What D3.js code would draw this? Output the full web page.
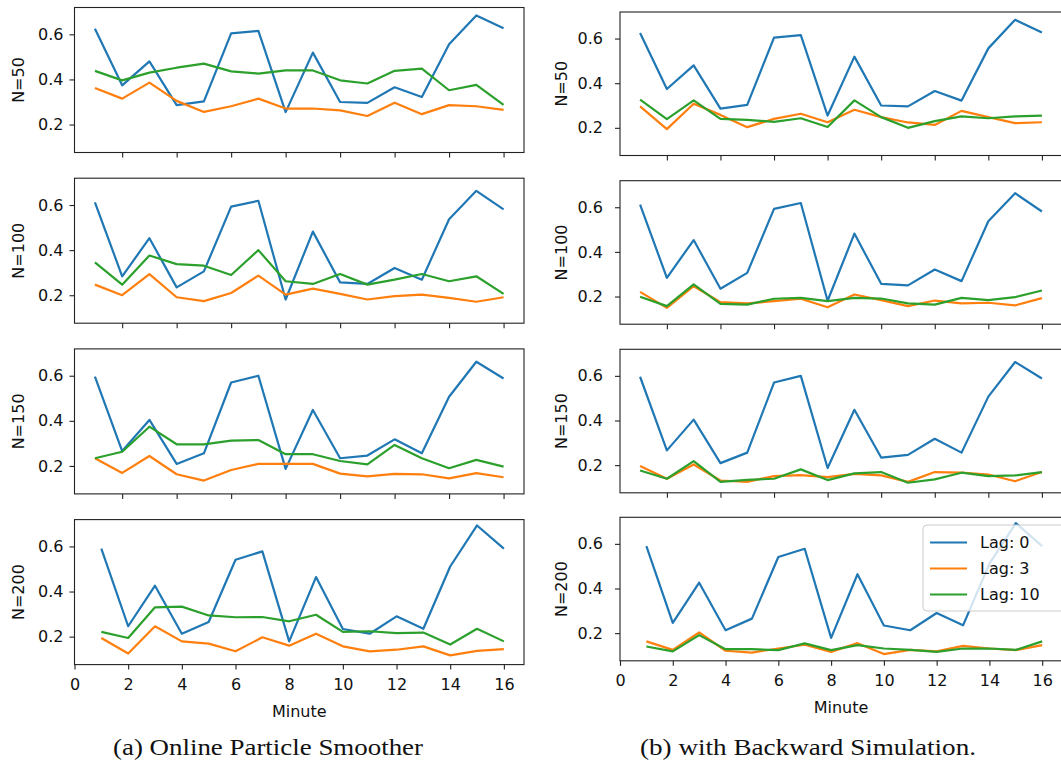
<!DOCTYPE html>
<html>
<head>
<meta charset="utf-8">
<script src="https://cdn.jsdelivr.net/npm/d3@7"></script>
<style>
  body { margin: 0; background: white; }
  svg { display: block; font-family: "DejaVu Sans", sans-serif; }
  .caption { font-family: "Liberation Serif", "DejaVu Serif", serif; }
</style>
</head>
<body>
<svg id="chart" width="1061" height="762"></svg>
<script>
  // data
  const minutes = [1, 2, 3, 4, 5, 6, 7, 8, 9, 10, 11, 12, 13, 14, 15, 16];
  const particleLabels = ["N=50", "N=100", "N=150", "N=200"];
  const lagLabels = ["Lag: 0", "Lag: 3", "Lag: 10"];
  const xTicks = [0, 2, 4, 6, 8, 10, 12, 14, 16];
  const yTicks = [0.2, 0.4, 0.6];
  const captions = ["(a) Online Particle Smoother", "(b) with Backward Simulation."];

  // lag 0 is the same filter in both columns
  const lag0N50  = [0.625, 0.374, 0.480, 0.286, 0.303, 0.604, 0.615, 0.255, 0.519, 0.300, 0.296, 0.365, 0.322, 0.556, 0.684, 0.627];
  const lag0N100 = [0.612, 0.284, 0.453, 0.235, 0.306, 0.593, 0.619, 0.181, 0.482, 0.257, 0.250, 0.321, 0.269, 0.537, 0.663, 0.581];
  const lag0N150 = [0.596, 0.266, 0.404, 0.209, 0.256, 0.570, 0.600, 0.187, 0.448, 0.234, 0.246, 0.318, 0.256, 0.507, 0.662, 0.588];
  const lag0N200 = [0.590, 0.246, 0.426, 0.213, 0.265, 0.541, 0.578, 0.179, 0.464, 0.234, 0.213, 0.290, 0.235, 0.511, 0.693, 0.590];

  // (a) online particle smoother
  const lag3OnlineN50   = [0.362, 0.315, 0.386, 0.305, 0.256, 0.281, 0.315, 0.271, 0.271, 0.263, 0.238, 0.297, 0.246, 0.286, 0.281, 0.265];
  const lag10OnlineN50  = [0.438, 0.396, 0.430, 0.452, 0.470, 0.436, 0.426, 0.440, 0.440, 0.396, 0.382, 0.438, 0.448, 0.352, 0.376, 0.287];
  const lag3OnlineN100  = [0.247, 0.200, 0.294, 0.191, 0.174, 0.210, 0.287, 0.203, 0.229, 0.206, 0.181, 0.196, 0.203, 0.188, 0.171, 0.191];
  const lag10OnlineN100 = [0.346, 0.247, 0.376, 0.338, 0.331, 0.290, 0.400, 0.262, 0.250, 0.294, 0.247, 0.269, 0.294, 0.262, 0.284, 0.206];
  const lag3OnlineN150  = [0.234, 0.169, 0.244, 0.163, 0.135, 0.182, 0.209, 0.209, 0.209, 0.166, 0.154, 0.165, 0.163, 0.145, 0.168, 0.150];
  const lag10OnlineN150 = [0.234, 0.263, 0.374, 0.296, 0.296, 0.312, 0.315, 0.252, 0.252, 0.222, 0.207, 0.293, 0.234, 0.190, 0.227, 0.197];
  const lag3OnlineN200  = [0.194, 0.125, 0.246, 0.179, 0.169, 0.135, 0.197, 0.160, 0.213, 0.157, 0.135, 0.142, 0.157, 0.117, 0.137, 0.145];
  const lag10OnlineN200 = [0.221, 0.194, 0.330, 0.333, 0.294, 0.286, 0.287, 0.268, 0.297, 0.221, 0.224, 0.216, 0.218, 0.165, 0.235, 0.179];

  // (b) with backward simulation
  const lag3BackN50   = [0.296, 0.194, 0.308, 0.258, 0.203, 0.240, 0.263, 0.225, 0.281, 0.248, 0.224, 0.213, 0.276, 0.248, 0.221, 0.225];
  const lag10BackN50  = [0.326, 0.239, 0.323, 0.240, 0.236, 0.227, 0.243, 0.204, 0.323, 0.248, 0.200, 0.230, 0.251, 0.243, 0.251, 0.255];
  const lag3BackN100  = [0.221, 0.149, 0.246, 0.175, 0.169, 0.179, 0.190, 0.152, 0.209, 0.184, 0.157, 0.182, 0.169, 0.172, 0.160, 0.193];
  const lag10BackN100 = [0.199, 0.157, 0.254, 0.167, 0.164, 0.190, 0.194, 0.179, 0.194, 0.191, 0.169, 0.164, 0.194, 0.184, 0.197, 0.227];
  const lag3BackN150  = [0.196, 0.139, 0.203, 0.131, 0.125, 0.151, 0.155, 0.146, 0.161, 0.154, 0.125, 0.169, 0.166, 0.158, 0.128, 0.169];
  const lag10BackN150 = [0.176, 0.139, 0.218, 0.125, 0.134, 0.139, 0.181, 0.133, 0.163, 0.169, 0.121, 0.136, 0.166, 0.151, 0.154, 0.169];
  const lag3BackN200  = [0.163, 0.125, 0.203, 0.121, 0.113, 0.131, 0.148, 0.116, 0.155, 0.106, 0.125, 0.118, 0.143, 0.131, 0.124, 0.146];
  const lag10BackN200 = [0.140, 0.118, 0.191, 0.128, 0.128, 0.124, 0.154, 0.124, 0.146, 0.131, 0.125, 0.116, 0.131, 0.131, 0.125, 0.163];

  const colors = ["#1f77b4", "#ff7f0e", "#2ca02c"];

  const columns = [
    {
      left: 74.5, right: 524, tops: [7.5, 178.2, 348.9, 519.6], h: 145, yPad: 6, ylabelX: 18,
      series: [
        [lag0N50, lag3OnlineN50, lag10OnlineN50],
        [lag0N100, lag3OnlineN100, lag10OnlineN100],
        [lag0N150, lag3OnlineN150, lag10OnlineN150],
        [lag0N200, lag3OnlineN200, lag10OnlineN200]
      ],
      captionX: 268
    },
    {
      left: 620, right: 1062, tops: [12, 180.7, 349.3, 517.3], h: 143.5, yPad: 12, ylabelX: 561,
      series: [
        [lag0N50, lag3BackN50, lag10BackN50],
        [lag0N100, lag3BackN100, lag10BackN100],
        [lag0N150, lag3BackN150, lag10BackN150],
        [lag0N200, lag3BackN200, lag10BackN200]
      ],
      captionX: 808
    }
  ];

  const svg = d3.select("#chart");

  columns.forEach((col, ci) => {
    col.tops.forEach((top, ri) => {
      const last = ri === col.tops.length - 1;
      const g = svg.append("g").attr("transform", `translate(${col.left},${top})`);
      const w = col.right - col.left;

      // bottom row starts at 0, the others use the default margins
      const x = d3.scaleLinear().domain([last ? 0 : 0.25, 16.75]).range([0, w]);
      const y = d3.scaleLinear().domain([0.076, 0.719]).range([col.h, 0]);

      const line = d3.line().x((d, i) => x(minutes[i])).y(d => y(d));

      col.series[ri].forEach((vals, si) => {
        g.append("path")
          .datum(vals)
          .attr("d", line)
          .attr("fill", "none")
          .attr("stroke", colors[si])
          .attr("stroke-width", 2.2)
          .attr("stroke-linejoin", "round");
      });

      const xAxis = g.append("g")
        .attr("transform", `translate(0,${col.h})`)
        .call(d3.axisBottom(x)
          .tickValues(xTicks.filter(t => t >= x.domain()[0]))
          .tickSize(5).tickPadding(9)
          .tickFormat(last ? d3.format("d") : ""));
      xAxis.select(".domain").remove();

      const yAxis = g.append("g")
        .call(d3.axisLeft(y).tickValues(yTicks).tickSize(5).tickPadding(col.yPad)
          .tickFormat(d3.format(".1f")));
      yAxis.select(".domain").remove();

      [xAxis, yAxis].forEach(a => {
        a.selectAll("line").attr("stroke", "#222").attr("stroke-width", 1.1);
        a.selectAll("text").attr("fill", "#111").style("font-size", "16px")
          .style("font-family", "DejaVu Sans");
      });

      g.append("rect")
        .attr("width", w).attr("height", col.h)
        .attr("fill", "none").attr("stroke", "#222").attr("stroke-width", 1.1);

      svg.append("text")
        .attr("transform", `translate(${col.ylabelX},${top + col.h / 2}) rotate(-90)`)
        .attr("text-anchor", "middle")
        .attr("dominant-baseline", "central")
        .style("font-size", "16px")
        .attr("fill", "#111")
        .text(particleLabels[ri]);

      if (last) {
        svg.append("text")
          .attr("x", (col.left + col.right) / 2)
          .attr("y", top + col.h + 52)
          .attr("text-anchor", "middle")
          .style("font-size", "16px")
          .attr("fill", "#111")
          .text("Minute");
      }
    });

    svg.append("text")
      .attr("class", "caption")
      .attr("x", col.captionX)
      .attr("y", 755)
      .attr("text-anchor", "middle")
      .style("font-size", "23px")
      .attr("fill", "#111")
      .attr("textLength", ci === 0 ? 310 : 336)
      .attr("lengthAdjust", "spacingAndGlyphs")
      .text(captions[ci]);
  });

  // legend, bottom right panel
  const legend = svg.append("g").attr("transform", "translate(923,525)");
  legend.append("rect")
    .attr("width", 150).attr("height", 86).attr("rx", 4)
    .attr("fill", "white").attr("fill-opacity", 0.8)
    .attr("stroke", "#ccc").attr("stroke-width", 1);
  lagLabels.forEach((lab, i) => {
    const ly = 17.5 + i * 26;
    legend.append("line")
      .attr("x1", 7).attr("x2", 44).attr("y1", ly).attr("y2", ly)
      .attr("stroke", colors[i]).attr("stroke-width", 2.2);
    legend.append("text")
      .attr("x", 57).attr("y", ly)
      .attr("dominant-baseline", "central")
      .style("font-size", "16px")
      .attr("fill", "#111")
      .text(lab);
  });
</script>
</body>
</html>
